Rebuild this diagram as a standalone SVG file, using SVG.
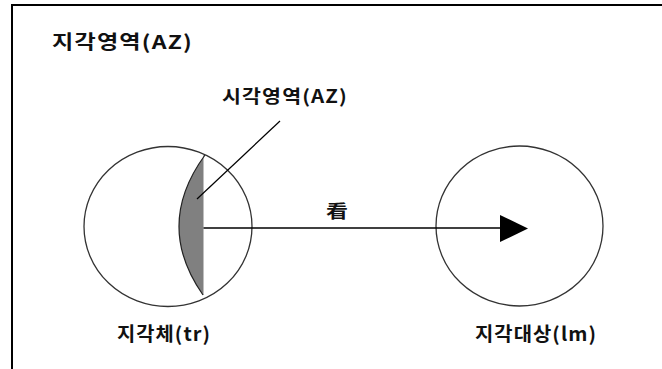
<svg xmlns="http://www.w3.org/2000/svg" width="662" height="369" viewBox="0 0 662 369">
  <style>
    .t { font-family: "Noto Sans CJK KR", "Noto Sans", sans-serif; font-weight: bold; fill: #111; letter-spacing: 1px; }
    .c { fill: #fff; stroke: #333; stroke-width: 1.3; }
    .ln { stroke: #000; fill: none; }
  </style>
  <rect x="0" y="0" width="662" height="369" fill="#fff"/>
  <g id="frame">
    <line x1="11" y1="5" x2="662" y2="5" stroke="#000" stroke-width="2"/>
    <line x1="12" y1="4" x2="12" y2="369" stroke="#000" stroke-width="2"/>
  </g>
  <g id="title">
    <text class="t" x="52" y="48.5" font-size="19" textLength="141" lengthAdjust="spacingAndGlyphs">지각영역(AZ)</text>
  </g>
  <g id="node-tr">
    <ellipse class="c" cx="168" cy="226.5" rx="84" ry="80"/>
    <text class="t" x="117" y="341" font-size="19" textLength="94" lengthAdjust="spacingAndGlyphs">지각체(tr)</text>
  </g>
  <g id="node-az">
    <path d="M205,155 Q154,225 203,295 L203.5,295 L203.5,155 Z" fill="#808080"/>
    <path d="M205,155 Q154,225 203,295" fill="none" stroke="#222" stroke-width="1.2"/>
    <text class="t" x="222" y="102.5" font-size="18" textLength="126" lengthAdjust="spacingAndGlyphs">시각영역(AZ)</text>
  </g>
  <g id="node-lm">
    <ellipse class="c" cx="519.5" cy="226" rx="83.5" ry="80"/>
    <text class="t" x="475" y="341" font-size="19" textLength="122" lengthAdjust="spacingAndGlyphs">지각대상(lm)</text>
  </g>
  <g id="connectors">
    <line class="ln" x1="280" y1="121" x2="197" y2="199" stroke="#333" stroke-width="1.2"/>
    <line class="ln" x1="203.5" y1="228" x2="502" y2="228" stroke-width="1.5"/>
    <polygon points="500,215 528,228.5 500,242" fill="#000"/>
    <text class="t" x="326" y="218" font-size="18" textLength="22" lengthAdjust="spacingAndGlyphs" style="letter-spacing:0">看</text>
  </g>
</svg>
